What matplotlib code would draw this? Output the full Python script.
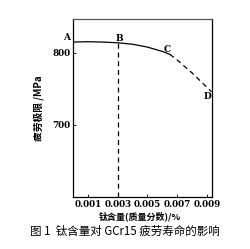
import numpy as np
import matplotlib
matplotlib.use("Agg")
import matplotlib.pyplot as plt

plt.rcParams['font.family'] = ['Noto Sans CJK SC', 'DejaVu Sans']

# data
ti_solid = [0.0, 0.001, 0.002, 0.003, 0.004, 0.005, 0.006, 0.0065]
fl_solid = [815, 815.5, 815, 814, 812, 808, 802, 798]
ti_dash = [0.0065, 0.007, 0.008, 0.0093]
fl_dash = [798, 790, 772, 746]
vline_x = 0.003
vline_top = 814

xticks = [0.001, 0.003, 0.005, 0.007, 0.009]
xticklabels = ["0.001", "0.003", "0.005", "0.007", "0.009"]
yticks = [700, 800]

points = {"A": (-0.0004, 822), "B": (0.0031, 820), "C": (0.0063, 805), "D": (0.0090, 739)}

fig = plt.figure(figsize=(2.51, 2.49), dpi=100)
ax = fig.add_axes([73/251, 1-197/249, (212-73)/251, (197-19)/249])

ax.plot(ti_solid, fl_solid, color="black", lw=0.9)
ax.plot(ti_dash, fl_dash, color="black", lw=0.9, ls=(0, (4, 3)))
ax.plot([vline_x, vline_x], [600, vline_top], color="black", lw=0.9, ls=(0, (4, 3)))

ax.set_xlim(0, 0.00933)
ax.set_ylim(600, 847)
ax.set_xticks(xticks)
ax.set_xticklabels(xticklabels)
ax.set_yticks(yticks)
for lab in ax.get_xticklabels() + ax.get_yticklabels():
    lab.set_family("DejaVu Serif")
    lab.set_fontweight("bold")
    lab.set_fontsize(6.3)
ax.tick_params(direction="in", length=2, width=0.6, pad=2)
for s in ax.spines.values():
    s.set_linewidth(0.9)
ax.spines["top"].set_color("#555555")

for name, (x, y) in points.items():
    ax.text(x, y, name, fontsize=6.5, fontweight="bold", family="DejaVu Serif",
            ha="center", va="center", clip_on=False)

ax.set_ylabel("疲劳极限 /MPa", fontsize=7, fontweight="bold")
ax.yaxis.set_label_coords(-0.21, 0.5)
fig.text(140/251, 1-216/249, "钛含量(质量分数)/%", fontsize=6.5, fontweight="bold",
         ha="center", va="center")

fig.text(125/251, 1-231/249, "图 1  钛含量对 GCr15 疲劳寿命的影响", fontsize=8.3,
         ha="center", va="center")

fig.savefig("out.png", dpi=100)
